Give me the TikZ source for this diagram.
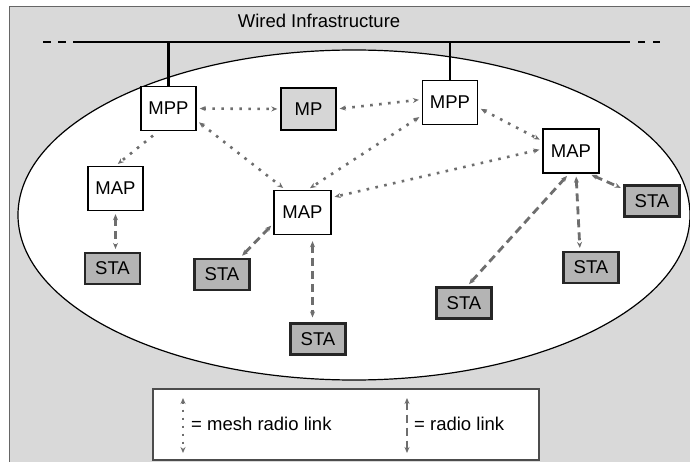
\documentclass[tikz,border=0pt]{standalone}
\usepackage{fontspec}
\setmainfont{Liberation Sans}
\usepackage{tikz}
\usepackage{xcolor}
\usetikzlibrary{arrows.meta, positioning, calc}
\definecolor{bggray}{RGB}{217,217,217}
\definecolor{stagray}{RGB}{180,180,180}
\definecolor{mpgray}{RGB}{214,214,214}
\definecolor{linkgray}{RGB}{110,110,110}
\tikzset{
	apblock/.style={rectangle, draw=black, line width=1.4pt, fill=white,
		minimum width=55pt, minimum height=44pt, inner sep=0pt, font=\fontsize{18.5}{20}\selectfont},
	mpblock/.style={apblock, fill=mpgray, minimum height=42pt},
	stablock/.style={rectangle, draw=black!85, line width=2.2pt, fill=stagray,
		minimum width=55pt, minimum height=31pt, inner sep=0pt, font=\fontsize{18.5}{20}\selectfont},
	busline/.style={line width=2.4pt, black},
	% link styles
	mesharrow/.style={{Stealth[length=6pt,width=5pt]}-{Stealth[length=6pt,width=5pt]}, linkgray,
		line width=2.6pt, dash pattern=on 2.6pt off 6.4pt, shorten <=3pt, shorten >=3pt},
	meshone/.style={mesharrow, -{Stealth[length=6pt,width=5pt]}},
	radioarrow/.style={{Stealth[length=6pt,width=5pt]}-{Stealth[length=6pt,width=5pt]}, linkgray,
		line width=2.8pt, dash pattern=on 8pt off 5pt, shorten <=3pt, shorten >=3pt},
	legtext/.style={anchor=west, inner sep=0pt, font=\fontsize{18.5}{20}\selectfont},
}
\begin{document}
\begin{tikzpicture}[x=1pt,y=-1pt]
	\useasboundingbox (0,0) rectangle (690,462);
	\fill[bggray] (9,7) rectangle (690,462);
	\draw[black!60, line width=1pt] (9,462) -- (9,7) -- (690,7);
	\node[font=\fontsize{18.5}{20}\selectfont] (wired) at (319,21) {Wired Infrastructure};
	% bus
	\coordinate (busL) at (73,42);\coordinate (busR) at (630,42);
	\draw[busline] (busL) -- (busR);
	\draw[busline, dash pattern=on 8pt off 7pt] (43,42) -- (66,42);
	\draw[busline, dash pattern=on 7pt off 8pt] (638,42) -- (660,42);
	\draw[black, line width=1.2pt, fill=white] (354,215) ellipse [x radius=336pt, y radius=165pt];
	% nodes
	\node[apblock] (mppL) at (168.5,108.5) {MPP};
	\node[mpblock] (mp) at (308.5,109) {MP};
	\node[apblock] (mppR) at (450,102.5) {MPP};
	\node[apblock] (mapL) at (115.5,188.5) {MAP};
	\node[apblock, minimum width=57pt] (mapC) at (302.5,212.5) {MAP};
	\node[apblock, minimum width=56pt] (mapR) at (571,151) {MAP};
	\node[stablock] (staL) at (112.5,268.5) {STA};
	\node[stablock] (staCL) at (222,274.5) {STA};
	\node[stablock] (staCB) at (318,339) {STA};
	\node[stablock] (staRB) at (464,303) {STA};
	\node[stablock] (staRM) at (591,267.5) {STA};
	\node[stablock] (staRR) at (652,201) {STA};
	\draw[busline] (mppL.north) -- (mppL.north |- busL);\draw[busline] (mppR.north) -- (mppR.north |- busR);
	% mesh radio links
	\draw[mesharrow] (mppL.east) -- (mp.west);\draw[mesharrow] (mp.east) -- ([yshift=3pt]mppR.west);
	\draw[meshone, shorten <=7pt] ([xshift=-10pt]mppL.south) -- (mapL.north);
	\draw[mesharrow] ([yshift=-12pt]mppL.east) -- ([xshift=-17pt]mapC.north);
	\draw[mesharrow] ([yshift=-13pt]mppR.west) -- ([xshift=5pt]mapC.north);
	\draw[mesharrow] ([yshift=2pt]mapR.west) -- ([yshift=15pt]mapC.east);
	\draw[mesharrow] ([yshift=-5pt]mppR.east) -- ([yshift=10pt]mapR.west);
	% radio links
	\draw[radioarrow] (mapL.south) -- (mapL.south |- staL.north);
	\draw[radioarrow] ([yshift=-11pt]mapC.west) -- ([xshift=18pt]staCL.north);
	\draw[radioarrow, shorten <=6pt, shorten >=5pt] ([xshift=10pt]mapC.south) -- ([xshift=10pt]mapC.south |- staCB.north);
	\draw[radioarrow] ([xshift=-11pt]mapR.south east) -- ([yshift=12pt]staRR.west);
	\draw[radioarrow] ([xshift=5pt]mapR.south) -- ([xshift=-11pt]staRM.north);
	\draw[radioarrow] ([xshift=-2pt]mapR.south) -- ([xshift=3pt]staRB.north);
	% legend
	\node[rectangle, draw=black!70, line width=1.2pt, fill=white, minimum width=386pt, minimum height=71pt] (legend) at (346,424.5) {};
	\coordinate (m1) at (183,398);\coordinate (m2) at (183,453);
	\coordinate (r1) at (407,398);\coordinate (r2) at (407,453);
	\draw[mesharrow, line width=2pt, dash pattern=on 2pt off 6pt, shorten <=0pt, shorten >=0pt] (m1) -- (m2);
	\draw[radioarrow, line width=2pt, shorten <=0pt, shorten >=0pt] (r1) -- (r2);
	\node[legtext] (meshlbl) at (191,424) {= mesh radio link};
	\node[legtext] (radiolbl) at (414,424) {= radio link};
\end{tikzpicture}
\end{document}
